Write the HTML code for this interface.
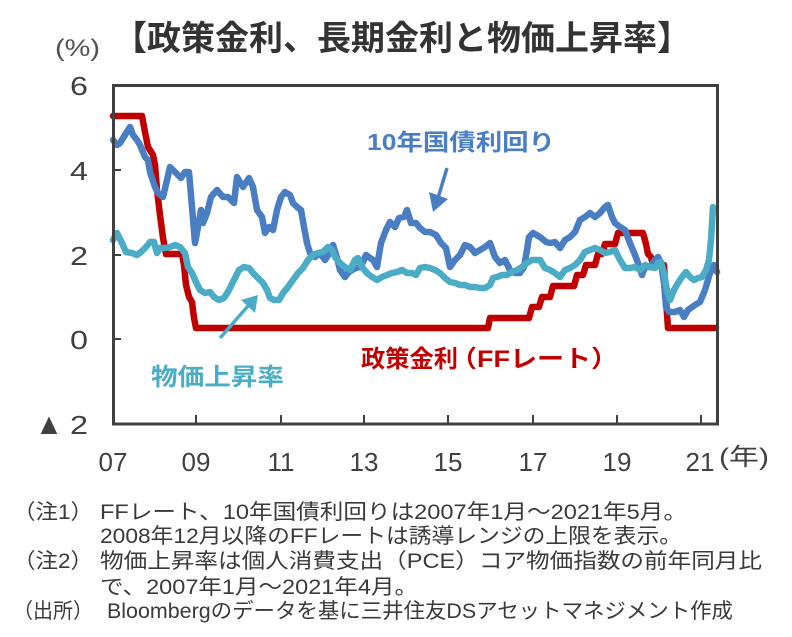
<!DOCTYPE html>
<html><head><meta charset="utf-8"><style>
html,body{margin:0;padding:0;background:#fff;}
svg{display:block;}
</style></head><body>
<svg width="792" height="637" viewBox="0 0 792 637" xmlns="http://www.w3.org/2000/svg" font-family="'Liberation Sans','Noto Sans CJK JP',sans-serif">
<rect width="792" height="637" fill="#fff"/>

<!-- Title -->
<text x="113" y="50" font-size="34" font-weight="700" fill="#333" textLength="578" lengthAdjust="spacingAndGlyphs">【政策金利、長期金利と物価上昇率】</text>

<!-- (%) -->
<text x="55" y="56" font-size="24" fill="#505050" textLength="45" lengthAdjust="spacingAndGlyphs">(%)</text>

<!-- Series -->
<g fill="none" stroke-linejoin="round" stroke-linecap="round" stroke-width="6.5">
<path stroke="#C00000" d="M113,116 L142,116 L145,132 L148,147 L153,155 L155,165 L157,190 L160,215 L163,238 L166,254 L182,254 L184,265 L186,285 L189,297 L192,302 L194,318 L196,328 L488,328 L490,318 L529,318 L532,307 L539,307 L542,297 L550,297 L553,286 L574,286 L577,275 L583,275 L586,265 L595,265 L598,254 L602,254 L605,244 L615,244 L618,233 L643,233 L646,244 L648,254 L651,257 L653,265 L664,265 L666,300 L668,328 L716,328"/>
<path stroke="#4A7EC2" d="M113,140 L117,145 L120,143 L125,135 L130,127 L133,135 L137,140 L140,145 L145,157 L148,160 L150,172 L155,187 L158,193 L163,197 L167,180 L170,167 L175,172 L181,178 L185,172 L189,172 L192,207 L195,243 L198,227 L201,210 L203,223 L207,213 L211,197 L217,190 L223,197 L228,197 L234,203 L237,177 L243,187 L249,178 L253,187 L257,210 L262,217 L265,233 L269,227 L273,230 L277,210 L281,197 L285,192 L290,195 L293,203 L297,207 L301,210 L304,227 L307,243 L310,253 L315,257 L320,253 L325,260 L330,252 L333,245 L337,258 L340,270 L345,277 L349,272 L352,270 L356,268 L360,267 L363,262 L366,255 L370,258 L373,260 L377,267 L381,243 L386,230 L390,222 L395,227 L399,218 L404,217 L407,210 L411,223 L416,223 L420,228 L425,232 L430,232 L436,235 L441,243 L446,248 L450,267 L455,260 L460,255 L465,245 L470,247 L475,253 L480,250 L485,247 L490,243 L495,257 L500,263 L505,260 L510,270 L515,273 L520,273 L524,267 L527,250 L529,237 L533,233 L540,237 L546,242 L550,243 L555,242 L560,248 L565,240 L570,237 L575,232 L580,220 L585,217 L590,213 L595,217 L600,213 L605,207 L608,205 L612,217 L615,223 L620,227 L625,230 L628,238 L632,248 L635,255 L638,263 L642,275 L645,267 L650,267 L655,260 L658,257 L661,263 L664,283 L666,307 L669,312 L675,312 L680,310 L684,317 L688,310 L695,305 L700,302 L705,290 L710,273 L714,265 L717,272"/>
<path stroke="#4BACC6" d="M113,240 L117,233 L122,243 L126,252 L132,253 L137,255 L141,252 L146,247 L150,242 L154,242 L157,253 L160,248 L165,248 L170,247 L175,245 L180,247 L185,253 L188,267 L192,273 L196,282 L200,290 L205,293 L210,292 L214,297 L219,300 L224,298 L229,290 L234,280 L239,270 L244,267 L249,268 L253,273 L258,278 L263,283 L267,290 L270,298 L274,300 L279,300 L283,293 L288,287 L293,280 L298,273 L303,268 L308,260 L313,255 L318,253 L323,252 L328,247 L332,250 L335,257 L340,263 L345,267 L350,270 L355,260 L358,258 L362,267 L367,273 L372,277 L377,280 L382,277 L387,275 L392,273 L397,272 L402,270 L407,273 L412,273 L416,275 L420,268 L425,267 L430,268 L435,270 L440,273 L445,278 L450,282 L455,283 L460,285 L465,285 L470,287 L475,287 L480,288 L485,288 L490,285 L493,278 L497,277 L502,275 L507,275 L512,272 L517,270 L522,267 L527,263 L532,260 L537,260 L540,260 L545,268 L550,270 L555,273 L560,277 L565,270 L570,268 L575,265 L580,260 L585,252 L590,250 L595,248 L600,250 L605,253 L610,252 L615,250 L620,260 L625,268 L630,268 L635,267 L640,270 L645,265 L650,267 L655,268 L658,263 L661,262 L664,273 L667,290 L670,300 L674,290 L678,283 L682,277 L686,272 L690,277 L694,280 L698,278 L702,277 L706,270 L709,260 L711,240 L713,207"/>
</g>

<!-- Frame -->
<rect x="113.5" y="85.5" width="604" height="338.5" fill="none" stroke="#404040" stroke-width="3"/>
<g stroke="#404040" stroke-width="2">
<line x1="113" y1="170" x2="121" y2="170"/>
<line x1="113" y1="255" x2="121" y2="255"/>
<line x1="113" y1="339" x2="121" y2="339"/>
<line x1="196" y1="415" x2="196" y2="424"/>
<line x1="281" y1="415" x2="281" y2="424"/>
<line x1="364" y1="415" x2="364" y2="424"/>
<line x1="448" y1="415" x2="448" y2="424"/>
<line x1="533" y1="415" x2="533" y2="424"/>
<line x1="617" y1="415" x2="617" y2="424"/>
<line x1="701" y1="415" x2="701" y2="424"/>
</g>

<!-- Y labels -->
<g font-size="26" fill="#404040">
<text x="70" y="95" textLength="18" lengthAdjust="spacingAndGlyphs">6</text>
<text x="70" y="180" textLength="18" lengthAdjust="spacingAndGlyphs">4</text>
<text x="70" y="265" textLength="18" lengthAdjust="spacingAndGlyphs">2</text>
<text x="70" y="349" textLength="18" lengthAdjust="spacingAndGlyphs">0</text>
<text x="35" y="434" font-size="30" textLength="28" lengthAdjust="spacingAndGlyphs">▲</text>
<text x="70" y="434" textLength="18" lengthAdjust="spacingAndGlyphs">2</text>
</g>

<!-- X labels -->
<g font-size="26" fill="#404040" text-anchor="middle">
<text x="113" y="471">07</text>
<text x="196" y="471">09</text>
<text x="281" y="471">11</text>
<text x="364" y="471">13</text>
<text x="448" y="471">15</text>
<text x="533" y="471">17</text>
<text x="617" y="471">19</text>
<text x="700" y="471">21</text>
</g>
<text x="719" y="465" font-size="24" fill="#404040" textLength="50" lengthAdjust="spacingAndGlyphs">(年)</text>

<!-- Annotations -->
<text x="367" y="150" font-size="23" font-weight="700" fill="#4A7EC2" textLength="188" lengthAdjust="spacingAndGlyphs">10年国債利回り</text>
<line x1="447" y1="168" x2="438" y2="198" stroke="#4A7EC2" stroke-width="3.5"/>
<polygon points="433,212 429,192 448,199" fill="#4A7EC2"/>

<text x="151" y="385" font-size="24" font-weight="700" fill="#4BACC6" textLength="133" lengthAdjust="spacingAndGlyphs">物価上昇率</text>
<line x1="220" y1="338" x2="248" y2="306" stroke="#4BACC6" stroke-width="3.5"/>
<polygon points="258,295 241,300 255,313" fill="#4BACC6"/>

<text x="361" y="367" font-size="24" font-weight="700" fill="#C00000" textLength="97" lengthAdjust="spacingAndGlyphs">政策金利</text>
<text x="450" y="367" font-size="24" font-weight="700" fill="#C00000" textLength="168" lengthAdjust="spacingAndGlyphs">（FFレート）</text>

<!-- Footnotes -->
<g font-size="21" fill="#3a3a3a">
<text x="13" y="519" textLength="80" lengthAdjust="spacingAndGlyphs">（注1）</text>
<text x="100" y="519" textLength="587" lengthAdjust="spacingAndGlyphs">FFレート、10年国債利回りは2007年1月～2021年5月。</text>
<text x="100" y="543" textLength="582" lengthAdjust="spacingAndGlyphs">2008年12月以降のFFレートは誘導レンジの上限を表示。</text>
<text x="13" y="568" textLength="80" lengthAdjust="spacingAndGlyphs">（注2）</text>
<text x="100" y="568" textLength="662" lengthAdjust="spacingAndGlyphs">物価上昇率は個人消費支出（PCE）コア物価指数の前年同月比</text>
<text x="100" y="594" textLength="318" lengthAdjust="spacingAndGlyphs">で、2007年1月～2021年4月。</text>
<text x="13" y="618" textLength="80" lengthAdjust="spacingAndGlyphs">（出所）</text>
<text x="107" y="618" textLength="626" lengthAdjust="spacingAndGlyphs">Bloombergのデータを基に三井住友DSアセットマネジメント作成</text>
</g>
</svg>
</body></html>
